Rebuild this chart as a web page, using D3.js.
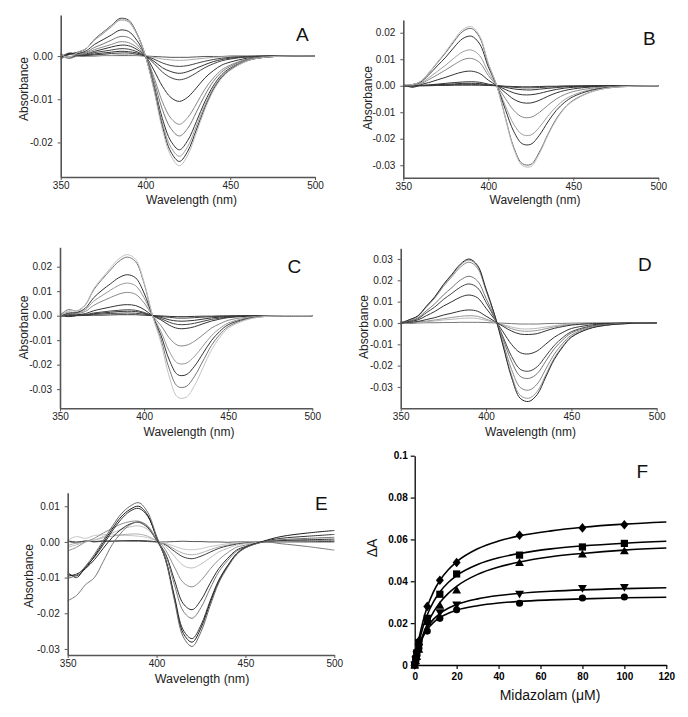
<!DOCTYPE html>
<html><head><meta charset="utf-8">
<script src="https://cdn.jsdelivr.net/npm/d3@7"></script>
<style>
body{margin:0;background:#fff}
svg{display:block;background:#fff}
text{font-family:"Liberation Sans",Arial,Helvetica,sans-serif}
</style>
</head><body>
<svg id="chart" width="688" height="717"></svg>
<script>
// ---------- DATA ----------
// Difference spectra, values in milli-absorbance (×0.001), sampled at these wavelengths (nm)
const wavelengths = [350,355,360,365,370,375,380,385,390,395,400,405,410,415,420,425,430,435,440,445,450,460,470,485,500];
const wavelengthTicks = [350,400,450,500];

const spectraA = [
  [-0.5,0.4,0,0,0,0.1,0.1,0.1,0.1,0.1,0,-0.1,-0.2,-0.3,-0.3,-0.3,-0.2,-0.1,-0.1,-0.1,0,0,0,0,0],
  [0.3,-0.6,0,0.1,0.1,0.2,0.2,0.3,0.3,0.2,0,-0.3,-0.7,-0.9,-1.0,-0.9,-0.7,-0.5,-0.3,-0.2,-0.1,0,0,0,0],
  [-0.8,0.5,0.1,0.1,0.3,0.4,0.6,0.7,0.7,0.4,0,-0.7,-1.6,-2.2,-2.4,-2.2,-1.7,-1.2,-0.8,-0.5,-0.3,-0.1,0,0,0],
  [0.4,-0.3,0.1,0.2,0.5,0.7,0.9,1.1,1.0,0.7,0,-1.2,-2.7,-3.6,-4.0,-3.6,-2.8,-2.0,-1.3,-0.8,-0.5,-0.2,0,0,0],
  [-0.3,0.7,0.2,0.3,0.8,1.1,1.4,1.7,1.6,1.0,0,-1.7,-3.7,-5.0,-5.5,-5.0,-3.9,-2.7,-1.8,-1.1,-0.7,-0.2,-0.1,0,0],
  [0.6,-0.4,0.3,0.5,1.1,1.6,2.1,2.5,2.4,1.5,0,-3.3,-7.0,-9.6,-10.5,-9.5,-7.4,-5.1,-3.4,-2.1,-1.4,-0.5,-0.1,0,0],
  [-0.6,0.3,0.3,0.7,1.5,2.1,2.7,3.3,3.1,2.0,0,-4.9,-10.6,-14.4,-15.8,-14.2,-11.1,-7.7,-5.1,-3.2,-2.1,-0.7,-0.2,0,0],
  [0.2,-0.5,0.5,0.9,2.0,2.8,3.7,4.5,4.3,2.7,0,-5.7,-12.4,-16.8,-18.5,-16.7,-13.0,-9.1,-5.9,-3.7,-2.4,-0.8,-0.2,0,0],
  [-0.4,0.6,0.6,1.2,2.7,3.8,4.9,6.0,5.7,3.6,0,-6.7,-14.5,-19.7,-21.7,-19.5,-15.2,-10.6,-6.9,-4.3,-2.8,-1.0,-0.3,0,0],
  [0.5,-0.2,0.8,1.7,3.7,5.2,6.8,8.3,7.9,5.0,0,-7.2,-15.5,-21.1,-23.2,-20.9,-16.2,-11.4,-7.4,-4.6,-3.0,-1.0,-0.3,0,0],
  [-0.2,0.4,0.9,1.7,3.9,5.5,7.1,8.7,8.3,5.2,0,-7.6,-16.3,-22.2,-24.4,-22.0,-17.1,-12.0,-7.8,-4.9,-3.2,-1.1,-0.3,0,0],
  [0.3,-0.3,0.9,1.7,3.8,5.4,7.0,8.5,8.1,5.1,0,-7.9,-17.0,-23.1,-25.4,-22.9,-17.8,-12.4,-8.1,-5.1,-3.3,-1.1,-0.3,0,0]
];
const spectraB = [
  [0.3,-0.2,0,0,0.1,0.1,0.2,0.2,0.2,0.2,0.1,0,-0.2,-0.3,-0.4,-0.4,-0.3,-0.2,-0.2,-0.1,-0.1,0,0,0,0],
  [-0.4,0.3,0,0.1,0.2,0.3,0.4,0.5,0.5,0.4,0.2,0,-0.3,-0.6,-0.8,-0.8,-0.7,-0.5,-0.3,-0.2,-0.1,-0.1,0,0,0],
  [0.5,-0.6,0.1,0.2,0.4,0.5,0.7,0.9,0.9,0.8,0.3,0,-0.6,-1.2,-1.5,-1.6,-1.3,-1.0,-0.7,-0.4,-0.3,-0.1,0,0,0],
  [-0.3,0.2,0.1,0.3,0.6,0.9,1.2,1.4,1.5,1.3,0.6,0,-1.4,-2.7,-3.4,-3.4,-2.9,-2.1,-1.4,-0.9,-0.6,-0.3,-0.1,0,0],
  [0.2,-0.2,0.4,1.2,2.2,3.2,4.3,5.2,5.5,4.6,2.1,0,-2.6,-5.1,-6.4,-6.5,-5.5,-4.0,-2.7,-1.8,-1.2,-0.5,-0.2,0,0],
  [-0.2,0.3,0.7,2.3,4.1,6.0,8.0,9.8,10.3,8.7,3.9,0,-4.8,-9.3,-11.8,-11.9,-10.1,-7.4,-5.0,-3.3,-2.2,-1.0,-0.4,-0.1,0],
  [0.4,0.3,0.9,3.0,5.4,7.8,10.5,12.8,13.5,11.3,5.1,0,-7.5,-14.6,-18.4,-18.6,-15.7,-11.5,-7.9,-5.2,-3.5,-1.5,-0.6,-0.1,0],
  [-0.3,0.4,1.3,4.1,7.5,10.8,14.6,17.8,18.7,15.7,7.1,0,-8.9,-17.3,-21.9,-22.1,-18.7,-13.7,-9.3,-6.2,-4.1,-1.8,-0.7,-0.1,0],
  [0.2,0.4,1.5,4.8,8.6,12.5,16.8,20.5,21.6,18.1,8.2,0,-11.9,-23.3,-29.4,-29.7,-25.1,-18.4,-12.5,-8.3,-5.5,-2.4,-0.9,-0.2,0],
  [0.5,0.4,1.6,4.9,8.9,12.9,17.4,21.2,22.3,18.7,8.5,0,-12.2,-23.9,-30.1,-30.5,-25.7,-18.8,-12.9,-8.5,-5.7,-2.5,-0.9,-0.2,0]
];
const spectraC = [
  [0.3,-0.4,0,0.1,0.2,0.2,0.3,0.4,0.4,0.4,0.2,0,-0.1,-0.3,-0.4,-0.4,-0.3,-0.2,-0.2,-0.1,-0.1,0,0,0,0],
  [-0.5,0.3,0.1,0.2,0.5,0.7,0.9,1.0,1.1,1.0,0.6,0,-0.3,-0.7,-1.0,-1.0,-0.8,-0.6,-0.4,-0.3,-0.2,-0.1,0,0,0],
  [0.2,-0.3,0.1,0.3,0.8,1.1,1.4,1.7,1.8,1.7,1.0,0,-0.7,-1.7,-2.2,-2.2,-1.9,-1.4,-0.9,-0.6,-0.3,-0.1,0,0,0],
  [-0.3,0.4,0.2,0.4,1.1,1.5,1.9,2.2,2.4,2.2,1.3,0,-1.2,-2.7,-3.6,-3.6,-3.1,-2.3,-1.5,-1.0,-0.6,-0.2,-0.1,0,0],
  [0.4,0.1,0.4,0.8,2.0,2.8,3.5,4.2,4.5,4.1,2.5,0,-1.7,-3.9,-5.2,-5.2,-4.5,-3.3,-2.2,-1.4,-0.8,-0.3,-0.1,0,0],
  [-0.4,0.8,0.8,1.7,4.2,5.9,7.4,8.8,9.5,8.7,5.2,0,-4.0,-9.1,-12.1,-12.1,-10.4,-7.8,-5.1,-3.3,-1.9,-0.7,-0.2,0,0],
  [0.3,1.5,1.1,2.4,5.9,8.2,10.4,12.4,13.3,12.2,7.3,0,-6.4,-14.6,-19.4,-19.4,-16.6,-12.4,-8.2,-5.2,-3.0,-1.1,-0.3,0,0],
  [-0.2,1.0,1.3,3.0,7.3,10.4,13.0,15.5,16.7,15.4,9.2,0,-7.9,-18.1,-24.1,-24.1,-20.6,-15.4,-10.2,-6.4,-3.7,-1.4,-0.4,0,0],
  [0.2,2.5,1.9,4.3,10.5,14.8,18.6,22.2,23.9,22.0,13.1,0,-9.5,-21.8,-28.9,-28.9,-24.7,-18.5,-12.2,-7.7,-4.5,-1.6,-0.4,0,0],
  [-0.3,2.0,2.0,4.5,11.0,15.4,19.4,23.2,24.9,22.9,13.7,0,-11.0,-25.0,-33.3,-33.3,-28.5,-21.3,-14.1,-8.9,-5.1,-1.9,-0.5,0,0]
];
const spectraD = [
  [0.2,-0.3,0,0.1,0.1,0.2,0.2,0.3,0.3,0.3,0.2,0,-0.1,-0.3,-0.5,-0.5,-0.5,-0.3,-0.2,-0.2,-0.1,0,0,0,0],
  [-0.3,0.1,0.3,0.6,0.9,1.4,1.7,2.1,2.3,2.1,1.2,0.3,-0.8,-1.9,-2.7,-2.8,-2.5,-1.9,-1.3,-0.8,-0.5,-0.2,-0.1,0,0],
  [0.3,0.2,0.4,0.9,1.4,2.0,2.6,3.1,3.4,3.1,1.8,0.4,-1.1,-2.7,-3.7,-3.9,-3.5,-2.7,-1.8,-1.2,-0.7,-0.3,-0.1,0,0],
  [-0.2,0.3,0.7,1.6,2.5,3.7,4.6,5.6,6.1,5.5,3.2,0.8,-1.6,-3.8,-5.2,-5.4,-5.0,-3.7,-2.5,-1.7,-1.0,-0.4,-0.2,0,0],
  [0.4,0.7,1.4,3.4,5.4,7.9,10.0,12.1,13.1,11.8,6.9,1.7,-4.2,-10.1,-13.9,-14.5,-13.1,-9.9,-6.7,-4.4,-2.6,-1.1,-0.4,-0.1,0],
  [-0.4,0.9,2.0,4.8,7.5,11.0,13.9,16.8,18.3,16.5,9.7,2.4,-6.6,-15.7,-21.7,-22.6,-20.5,-15.5,-10.5,-6.8,-4.1,-1.7,-0.7,-0.1,0],
  [0.3,1.1,2.4,5.7,9.0,13.1,16.6,20.1,21.9,19.7,11.6,2.8,-7.6,-18.1,-25.0,-26.0,-23.7,-17.9,-12.1,-7.9,-4.7,-2.0,-0.8,-0.1,0],
  [-0.5,1.4,3.1,7.4,11.7,17.1,21.7,26.2,28.5,25.7,15.1,3.7,-9.2,-21.9,-30.2,-31.5,-28.6,-21.6,-14.6,-9.5,-5.7,-2.4,-1.0,-0.2,0],
  [0.2,1.5,3.2,7.7,12.1,17.7,22.4,27.1,29.5,26.6,15.6,3.8,-10.4,-24.6,-33.9,-35.3,-32.1,-24.3,-16.4,-10.7,-6.4,-2.7,-1.1,-0.2,0],
  [-0.3,1.5,3.3,7.8,12.3,18.0,22.8,27.6,30.0,27.0,15.9,3.9,-10.8,-25.7,-35.3,-36.8,-33.5,-25.3,-17.1,-11.2,-6.7,-2.8,-1.1,-0.2,0]
];
const spectraE = [
  [0.2,-0.3,0.3,0,0.2,0.2,0.3,0.2,0.2,0.1,0,0,0.1,0.2,0.1,0.1,0,0,-0.1,0,0,0,0,0,0],
  [0.5,1.5,1.0,1.8,2.0,2.2,1.8,1.8,1.6,1.2,0.3,-0.4,-1.2,-2.0,-2.2,-1.9,-1.3,-0.9,-0.5,-0.3,-0.2,0,0.1,0.2,0.2],
  [-1.0,-0.3,0.2,0.5,1.2,1.6,2.0,2.2,2.2,1.6,0.4,-0.6,-2.0,-3.2,-3.6,-3.1,-2.2,-1.4,-0.9,-0.4,-0.2,0,0.1,0.3,0.4],
  [0.3,0,0.2,0.1,0.3,0.2,0.3,0.4,0.4,0.3,0,-0.8,-2.6,-4.2,-4.7,-4.0,-2.9,-1.8,-1.1,-0.6,-0.3,0,0.1,0.1,0.1],
  [-1.5,-0.8,0,0.5,1.5,2.5,3.5,4.2,4.5,3.5,0.8,-1.2,-4.0,-6.6,-7.3,-6.2,-4.5,-2.8,-1.8,-0.9,-0.5,0,0.2,0.3,0.5],
  [-2.5,-1.5,0,1.0,2.5,3.8,5.0,5.7,5.8,4.5,1.0,-2.2,-7.0,-11.4,-12.6,-10.8,-7.7,-5.0,-3.0,-1.5,-0.9,0,0.3,0.4,0.4],
  [-9.0,-9.5,-7.5,-5.0,-1.8,1.2,3.5,5.0,5.5,4.0,0.5,-3.3,-10.6,-17.3,-19.0,-16.3,-11.7,-7.5,-4.6,-2.3,-1.3,0,0.4,0.6,0.8],
  [-16.5,-15.0,-12.0,-10.0,-5.5,-0.8,2.5,4.8,5.6,4.3,0.3,-3.7,-11.9,-19.4,-21.4,-18.4,-13.2,-8.4,-5.2,-2.6,-1.5,0,-0.5,-1.3,-2.3],
  [-8.5,-10.0,-7.0,-4.3,-0.8,3.0,6.3,8.6,9.4,7.2,1.4,-4.7,-15.1,-24.7,-27.1,-23.3,-16.7,-10.7,-6.6,-3.3,-1.5,0.1,1.0,1.6,2.1],
  [-9.6,-9.0,-7.3,-4.0,-0.2,3.6,7.0,9.1,10.0,7.5,1.2,-4.8,-15.6,-25.6,-28.1,-24.1,-17.3,-11.1,-6.8,-3.4,-1.6,0.2,1.5,2.5,3.2],
  [-10.2,-9.3,-6.8,-3.5,0.4,4.3,7.8,10.0,11.0,8.3,1.6,-5.0,-16.3,-26.6,-29.3,-25.2,-18.1,-11.5,-7.1,-3.6,-1.7,0,0.6,1.0,1.3]
];

// Tick values (milli-absorbance) and their printed labels
const ticksA = [0,-10,-20],             labelsA = ["0.00","-0.01","-0.02"];
const ticksB = [20,10,0,-10,-20,-30],   labelsB = ["0.02","0.01","0.00","-0.01","-0.02","-0.03"];
const ticksC = [20,10,0,-10,-20,-30],   labelsC = ["0.02","0.01","0.00","-0.01","-0.02","-0.03"];
const ticksD = [30,20,10,0,-10,-20,-30],labelsD = ["0.03","0.02","0.01","0.00","-0.01","-0.02","-0.03"];
const ticksE = [10,0,-10,-20,-30],      labelsE = ["0.01","0.00","-0.01","-0.02","-0.03"];

// Panel F: binding titration (Midazolam µM vs ΔA)
const midazolam = [0,0.5,1,2,6,12,20,50,80,100];
const dA_diamond = [0,0.0035,0.0065,0.0115,0.028,0.0405,0.049,0.062,0.0655,0.067];
const dA_square  = [0,0.003,0.0058,0.0107,0.0223,0.0338,0.0435,0.0525,0.0564,0.0581];
const dA_up      = [0,0.002,0.004,0.0075,0.0207,0.0285,0.0358,0.0489,0.053,0.0545];
const dA_down    = [0,0.0025,0.0048,0.0085,0.0199,0.025,0.0287,0.0339,0.0366,0.0371];
const dA_circle  = [0,0.0025,0.0045,0.008,0.0162,0.0223,0.0264,0.0295,0.032,0.0325];
// fitted curves
const fitConc    = [0,2,4,6,9,12,16,20,30,40,50,65,80,100,120];
const fit_diamond= [0,0.0123,0.0211,0.0278,0.0351,0.0404,0.0455,0.0493,0.0555,0.0592,0.0617,0.0641,0.0658,0.0673,0.0683];
const fit_square = [0,0.0107,0.0183,0.024,0.0303,0.0349,0.0394,0.0427,0.048,0.0512,0.0533,0.0555,0.0569,0.0582,0.0591];
const fit_up     = [0,0.0083,0.0146,0.0196,0.0254,0.0298,0.0342,0.0376,0.0433,0.0468,0.0492,0.0517,0.0533,0.0549,0.0559];
const fit_down   = [0,0.0087,0.0142,0.018,0.0219,0.0246,0.0271,0.0289,0.0316,0.0332,0.0342,0.0352,0.0359,0.0365,0.0369];
const fit_circle = [0,0.0085,0.0136,0.017,0.0204,0.0227,0.0247,0.0262,0.0283,0.0296,0.0304,0.0311,0.0316,0.0321,0.0324];
const fTicksX = [0,20,40,60,80,100,120];
const fTicksY = [0,0.02,0.04,0.06,0.08,0.1], fLabelsY = ["0","0.02","0.04","0.06","0.08","0.1"];

// ---------- STYLE ----------
const colorsA = ["#555","#aaa","#444","#333","#444","#333","#888","#777","#333","#999","#2a2a2a","#bdbdbd"];
const colorsB = ["#333","#444","#333","#333","#333","#888","#a0a0a0","#333","#666","#bdbdbd"];
const colorsC = ["#333","#444","#333","#444","#333","#888","#999","#333","#777","#c4c4c4"];
const colorsD = ["#777","#bbb","#999","#333","#333","#444","#777","#888","#999","#2a2a2a"];
const colorsE = ["#555","#c8c8c8","#b0b0b0","#404040","#c0c0c0","#909090","#2a2a2a","#7a7a7a","#333","#1e1e1e","#6a6a6a"];

const svg = d3.select("#chart");
svg.append("rect").attr("width",688).attr("height",717).attr("fill","#fff");

function spectrumPanel(o){
  const g = svg.append("g");
  const x = d3.scaleLinear().domain([350,500]).range([o.x0,o.x1]);
  const y = d3.scaleLinear().domain(o.yDom).range([o.y1,o.y0]);
  const line = d3.line().x((d,i)=>x(wavelengths[i])).y(d=>y(d)).curve(d3.curveCatmullRom.alpha(0.5));
  g.selectAll("path.sp").data(o.curves).join("path").attr("class","sp")
    .attr("d",line).attr("fill","none").attr("stroke",(d,i)=>o.colors[i]).attr("stroke-width",1);
  const ya = g.append("g").attr("transform",`translate(${o.x0},0)`)
    .call(d3.axisLeft(y).tickValues(o.yTicks).tickFormat((d,i)=>o.yLabels[i]).tickSize(3).tickSizeOuter(0).tickPadding(5));
  const xa = g.append("g").attr("transform",`translate(0,${o.y1})`)
    .call(d3.axisBottom(x).tickValues(wavelengthTicks).tickFormat(d=>String(d)).tickSize(3).tickSizeOuter(0).tickPadding(2));
  [ya,xa].forEach(a=>{
    a.select(".domain").attr("stroke","#555").attr("stroke-width",1.6);
    a.selectAll(".tick line").attr("stroke","#555");
    a.selectAll("text").attr("font-size",10).attr("fill","#222").style("font-family","'Liberation Sans',Arial,sans-serif");
  });
  g.append("text").attr("x",o.titleX).attr("y",o.titleY).attr("text-anchor","middle")
    .attr("font-size",o.titleSize||12).attr("fill","#222").text("Wavelength (nm)");
  g.append("text").attr("transform",`translate(${o.absX},${o.absY}) rotate(-90)`).attr("text-anchor","middle")
    .attr("font-size",12).attr("fill","#222").text("Absorbance");
  g.append("text").attr("x",o.letX).attr("y",o.letY).attr("font-size",19).attr("fill","#111").text(o.letter);
}

spectrumPanel({x0:60.7,x1:315,y0:15,y1:177,yDom:[-28,9.5],yTicks:ticksA,yLabels:labelsA,curves:spectraA,colors:colorsA,
  titleX:191.5,titleY:204,absX:28,absY:89,letter:"A",letX:296,letY:41});
spectrumPanel({x0:403.3,x1:658.3,y0:20,y1:177.7,yDom:[-34.7,24.8],yTicks:ticksB,yLabels:labelsB,curves:spectraB,colors:colorsB,
  titleX:535,titleY:204,absX:371.5,absY:98,letter:"B",letX:643,letY:45});
spectrumPanel({x0:60,x1:312.3,y0:247.3,y1:408.3,yDom:[-37.8,27.9],yTicks:ticksC,yLabels:labelsC,curves:spectraC,colors:colorsC,
  titleX:189,titleY:436,absX:27.5,absY:327.5,letter:"C",letX:287.5,letY:273.3});
spectrumPanel({x0:400.7,x1:656.7,y0:248.3,y1:408.3,yDom:[-40,35],yTicks:ticksD,yLabels:labelsD,curves:spectraD,colors:colorsD,
  titleX:530.5,titleY:436,absX:367.5,absY:327,letter:"D",letX:638,letY:270.7});
spectrumPanel({x0:67.7,x1:334.3,y0:492.7,y1:655,yDom:[-31.7,13.8],yTicks:ticksE,yLabels:labelsE,curves:spectraE,colors:colorsE,
  titleX:202,titleY:683,titleSize:12.5,absX:32.5,absY:576,letter:"E",letX:315,letY:510});

// ---------- Panel F ----------
(function(){
  const g = svg.append("g");
  const x = d3.scaleLinear().domain([0,120]).range([414.7,666.3]);
  const y = d3.scaleLinear().domain([0,0.1]).range([665,455.7]);
  const fits = [fit_diamond,fit_square,fit_up,fit_down,fit_circle];
  const line = d3.line().x((d,i)=>x(fitConc[i])).y(d=>y(d)).curve(d3.curveMonotoneX);
  g.selectAll("path.fit").data(fits).join("path").attr("class","fit").attr("d",line)
    .attr("fill","none").attr("stroke","#000").attr("stroke-width",1.6);
  const shapes = [
    "M0,-4.8L4,0L0,4.8L-4,0Z",
    "M-3.6,-3.6h7.2v7.2h-7.2Z",
    "M0,-4.4L4.4,3.4L-4.4,3.4Z",
    "M0,4.4L4.4,-3.4L-4.4,-3.4Z",
    d3.symbol().type(d3.symbolCircle).size(40)()
  ];
  const series = [dA_diamond,dA_square,dA_up,dA_down,dA_circle];
  series.forEach((s,k)=>{
    g.selectAll(null).data(s).join("path").attr("d",shapes[k])
      .attr("transform",(d,i)=>`translate(${x(midazolam[i])},${y(d)})`).attr("fill","#000");
  });
  const ya = g.append("g").attr("transform","translate(414.7,0)")
    .call(d3.axisLeft(y).tickValues(fTicksY).tickFormat((d,i)=>fLabelsY[i]).tickSize(4).tickSizeOuter(0).tickPadding(3));
  const xa = g.append("g").attr("transform","translate(0,665)")
    .call(d3.axisBottom(x).tickValues(fTicksX).tickFormat(d=>String(d)).tickSize(4).tickSizeOuter(0).tickPadding(4));
  [ya,xa].forEach(a=>{
    a.select(".domain").attr("stroke","#000").attr("stroke-width",1.3);
    a.selectAll(".tick line").attr("stroke","#000").attr("stroke-width",1.2);
    a.selectAll("text").attr("font-size",10).attr("font-weight","bold").attr("fill","#000").style("font-family","'Liberation Sans',Arial,sans-serif");
  });
  g.append("text").attr("x",550).attr("y",700).attr("text-anchor","middle").attr("font-size",14).attr("fill","#111").text("Midazolam (μM)");
  g.append("text").attr("transform","translate(377,548) rotate(-90)").attr("text-anchor","middle").attr("font-size",14).attr("fill","#111").text("ΔA");
  g.append("text").attr("x",636.5).attr("y",478.3).attr("font-size",19).attr("fill","#111").text("F");
})();
</script>
</body></html>
